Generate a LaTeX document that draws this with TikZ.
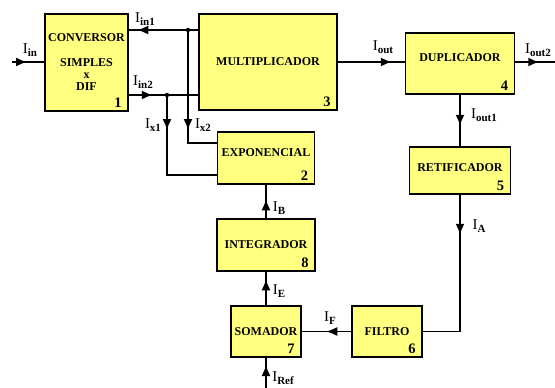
\documentclass[tikz,border=0pt]{standalone}
\usepackage{fontspec}
\setmainfont{Liberation Serif}
\usetikzlibrary{arrows.meta,positioning,calc,decorations.markings}
\definecolor{pad}{HTML}{FFFF80}
\newcommand{\cur}[1]{I\raisebox{-.5ex}{\fontsize{11}{11}\selectfont\bfseries #1}}
\newcommand{\up}[2]{\raisebox{#1}[\height][\depth]{#2}}
\tikzset{box/.style={draw,line width=1.5pt,fill=pad,align=center,font=\bfseries\fontsize{12}{13}\selectfont,inner sep=0pt},
num/.style={label={[anchor=south east,inner xsep=7pt,inner ysep=4pt,font=\bfseries\fontsize{14.5}{14.5}\selectfont]south east:#1}},
wire/.style={line width=1.5pt},
tipat/.style={wire,postaction=decorate,decoration={markings,mark=at position #1 with {\arrow{Latex[length=11pt,width=9pt]}}}},
dot/.style={circle,fill,inner sep=0pt,minimum size=4.5pt},
lbl/.style={font=\fontsize{15}{15}\selectfont,inner sep=0pt}}
\begin{document}
\begin{tikzpicture}[x=1pt,y=-1pt]
\useasboundingbox (0,0) rectangle (555,388);
% blocos
\node[box,minimum width=83pt,minimum height=97pt,num=1] (conv) at (86.5,62.5) {CONVERSOR\\[12pt]SIMPLES\\[-1pt]x\\[-1pt]DIF};
\node[box,minimum width=138pt,minimum height=96pt,num=3] (mult) at (268,62) {MULTIPLICADOR};
\node[box,minimum width=109pt,minimum height=61pt,num=4] (dup) at (460,63.5) {\up{6pt}{DUPLICADOR}};
\node[box,minimum width=101pt,minimum height=47pt,num=5] (ret) at (460,170.5) {\up{2.5pt}{RETIFICADOR}};
\node[box,minimum width=97pt,minimum height=52pt,num=2] (expo) at (266,158) {\up{5pt}{EXPONENCIAL}};
\node[box,minimum width=98pt,minimum height=52pt,num=8] (integ) at (266,245) {INTEGRADOR};
\node[box,minimum width=70pt,minimum height=51pt,num=7] (som) at (266,331.5) {SOMADOR};
\node[box,minimum width=70pt,minimum height=51pt,num=6] (filt) at (387,331.5) {FILTRO};
% pontos de ligacao
\coordinate (in) at (12,62);
\coordinate (out2) at (555,62);
\coordinate (ref) at (266,388);
\node[dot] (j1) at (188,30) {};
\node[dot] (j2) at (167,95) {};
% ligacoes
\draw[tipat=15pt] (in) -- (conv.west|-in);
\draw[tipat=61pt] (mult.west|-j1) -- (conv.east|-j1);
\draw[tipat=24pt] (conv.east|-j2) -- (mult.west|-j2);
\draw[tipat=35pt] (j2.center) |- ([yshift=-17pt]expo.west);
\draw[tipat=100pt] (j1.center) |- ([yshift=15pt]expo.west);
\draw[tipat=54pt] (mult.east|-in) -- (dup.west|-in);
\draw[tipat=24pt] (dup.east|-in) -- (out2);
\draw[tipat=31pt] (dup.south) -- (ret.north);
\draw[tipat=40pt] (ret.south) |- (filt.east);
\draw[tipat=25pt] (filt.west) -- (som.east);
\draw[tipat=26pt] (som.north) -- (integ.south);
\draw[tipat=19pt] (integ.north) -- (expo.south);
\draw[tipat=23pt] (ref) -- (som.south);
% correntes
\node[lbl] (lIn) at (30,50) {\cur{in}};
\node[lbl] (lIn1) at (145,19) {\cur{in1}};
\node[lbl] (lIn2) at (143,82) {\cur{in2}};
\node[lbl] (lX1) at (153,125) {\cur{x1}};
\node[lbl] (lX2) at (203,125) {\cur{x2}};
\node[lbl] (lOut) at (383,47) {\cur{out}};
\node[lbl] (lOut2) at (538,50) {\cur{out2}};
\node[lbl] (lOut1) at (484,115) {\cur{out1}};
\node[lbl] (lA) at (479,226) {\cur{A}};
\node[lbl] (lB) at (279,208) {\cur{B}};
\node[lbl] (lE) at (279,291) {\cur{E}};
\node[lbl] (lF) at (330,318) {\cur{F}};
\node[lbl] (lRef) at (283,378) {\cur{Ref}};
\end{tikzpicture}
\end{document}
